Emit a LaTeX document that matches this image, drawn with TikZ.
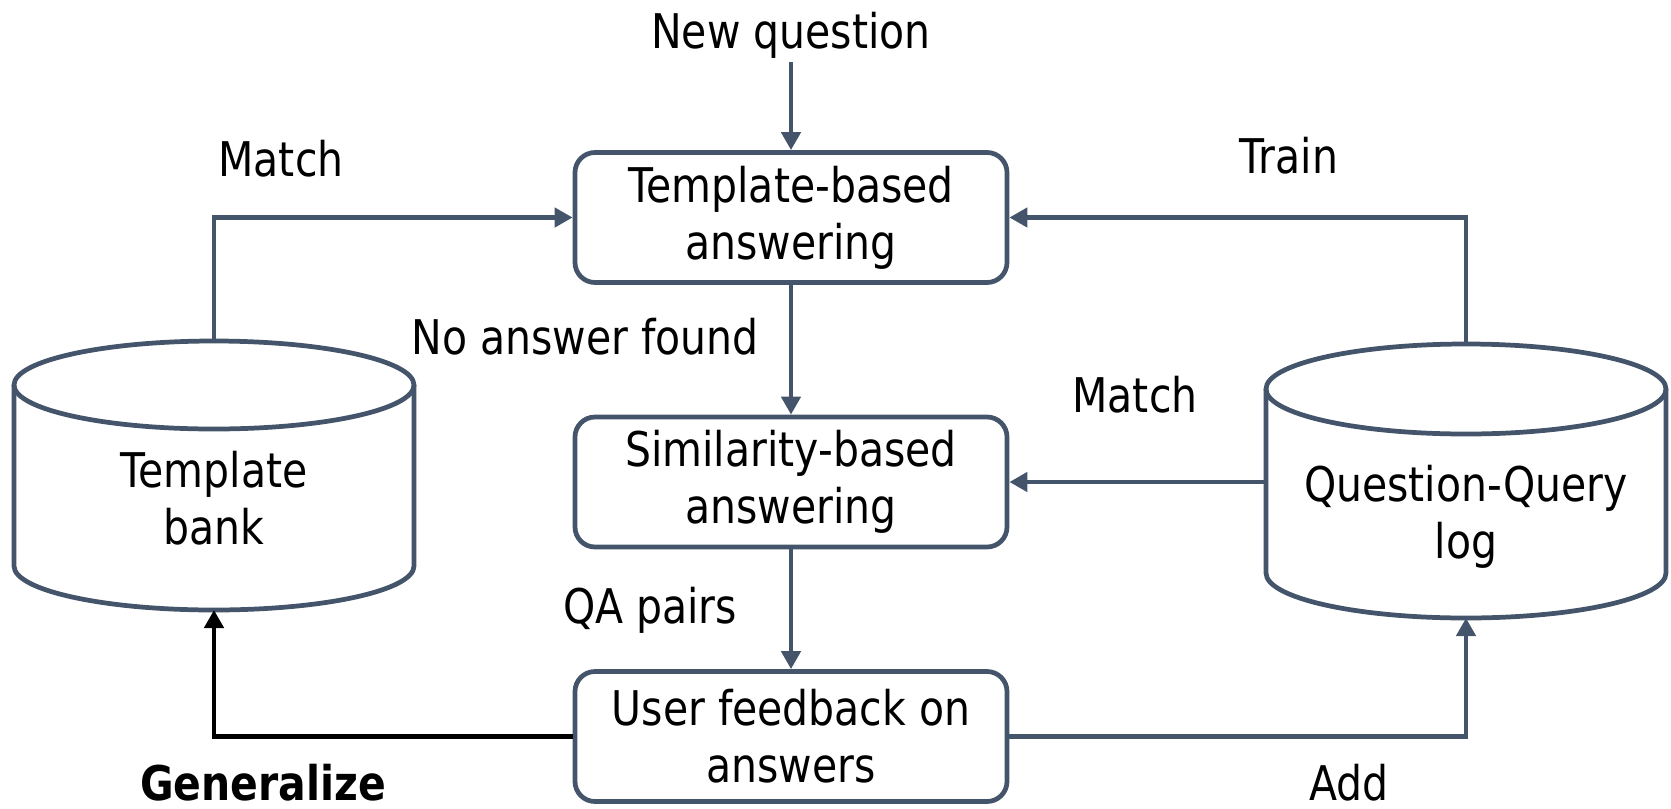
\documentclass[tikz,border=0pt]{standalone}
\usepackage{fontspec}
\setmainfont{DejaVu Sans}[FakeStretch=0.857]
\usetikzlibrary{arrows.meta, positioning}
\definecolor{slate}{HTML}{44546A}

\begin{document}
\begin{tikzpicture}[
    font=\fontsize{13.6}{16.2}\selectfont,
    line width=1.35pt,
    stage/.style={rectangle, rounded corners=2mm, draw=slate, minimum width=4.32cm,
      minimum height=1.3cm, align=center, inner sep=2pt},
    dbtext/.style={align=center, inner sep=0pt},
    lbl/.style={anchor=base, inner sep=0.5pt},
    dbline/.style={draw=slate, line join=round},
    arrow/.style={-{Triangle[length=1.8mm, width=1.9mm]}, slate},
  ]
  \useasboundingbox (0,0) rectangle (16.71,-8.08);

  % stages
  \node[stage] (tb)   at (7.91,-2.175) {Template-based\\answering};
  \node[stage] (sim)  at (7.91,-4.82)  {Similarity-based\\answering};
  \node[stage] (user) at (7.91,-7.365) {User feedback on\\answers};

  % the two stores
  \draw[dbline] (0.14,-3.85) -- (0.14,-5.66)
    arc[start angle=180, end angle=360, x radius=2, y radius=0.44] -- (4.14,-3.85);
  \draw[dbline] (2.14,-3.85) ellipse[x radius=2, y radius=0.44];
  \draw[dbline] (12.66,-3.89) -- (12.66,-5.73)
    arc[start angle=180, end angle=360, x radius=2, y radius=0.45] -- (16.66,-3.89);
  \draw[dbline] (14.66,-3.89) ellipse[x radius=2, y radius=0.45];

  \node[dbtext] (bank)  at (2.14,-4.985) {Template\\bank};
  \node[dbtext] (qqlog) at (14.66,-5.17) {Question-Query\\log};
  \coordinate (banktop) at (2.14,-3.41);
  \coordinate (bankbot) at (2.14,-6.10);
  \coordinate (qqtop)   at (14.66,-3.44);
  \coordinate (qqbot)   at (14.66,-6.18);
  \coordinate (qqleft)  at (12.66,-4.82);

  % labels
  \node[lbl] (newq)   at (7.91,-0.48)  {New question};
  \node[lbl] (matchl) at (2.81,-1.76)  {Match};
  \node[lbl] (train)  at (12.89,-1.73) {Train};
  \node[lbl] (noans)  at (5.85,-3.54)  {No answer found};
  \node[lbl] (matchr) at (11.35,-4.12) {Match};
  \node[lbl] (qa)     at (6.50,-6.23)  {QA pairs};
  \node[lbl] (gen)    at (2.63,-8.00)  {\bfseries Generalize};
  \node[lbl] (add)    at (13.49,-8.00) {Add};

  % flow
  \draw[arrow] (newq.south) -- (tb.north);
  \draw[arrow] (banktop) |- (tb.west);
  \draw[arrow] (qqtop) |- (tb.east);
  \draw[arrow] (tb.south) -- (sim.north);
  \draw[arrow] (qqleft) -- (sim.east);
  \draw[arrow] (sim.south) -- (user.north);
  \draw[arrow, black] (user.west) -| (bankbot);
  \draw[arrow] (user.east) -| (qqbot);
\end{tikzpicture}
\end{document}
